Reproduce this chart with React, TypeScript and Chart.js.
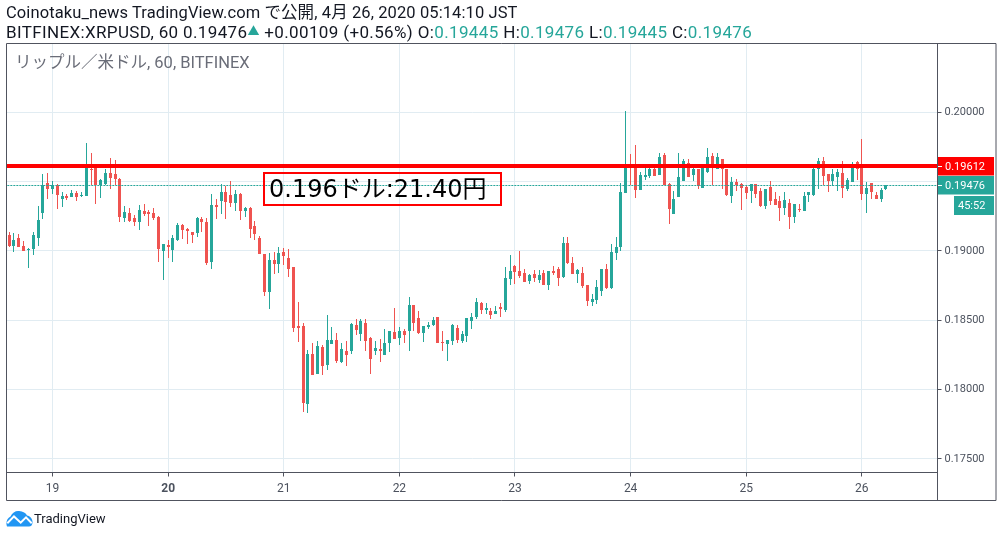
import React, { useEffect, useRef } from "react";
import { Chart, registerables } from "chart.js";

Chart.register(...registerables);

const opens = [19116,19038,19094,19036,19012,19017,19096,19270,19493,19449,19478,19372,19398,19386,19420,19398,19398,19594,19616,19478,19485,19565,19558,19522,19239,19275,19239,19205,19290,19282,19275,19246,19002,19041,19007,19079,19188,19159,19137,19130,19232,19210,18920,19333,19362,19427,19406,19348,19413,19290,19311,19181,19094,18978,18702,18934,18905,18992,18949,18884,18456,18456,17898,18253,18115,18304,18173,18325,18354,18195,18275,18275,18463,18398,18478,18369,18275,18289,18246,18333,18412,18369,18420,18420,18608,18514,18405,18449,18463,18521,18340,18325,18347,18441,18347,18383,18492,18521,18623,18572,18565,18543,18594,18572,18797,18891,18855,18840,18782,18833,18789,18840,18753,18855,18869,18811,19058,18913,18833,18840,18753,18630,18644,18710,18869,18731,18985,19029,19420,19628,19601,19442,19536,19543,19587,19550,19688,19485,19268,19391,19507,19637,19550,19594,19456,19572,19681,19594,19666,19587,19398,19500,19485,19463,19434,19485,19435,19326,19464,19377,19362,19311,19348,19246,19304,19290,19406,19406,19587,19645,19551,19507,19536,19565,19449,19500,19638,19616,19413,19493,19406,19377,19445];
const highs = [19135,19128,19123,19072,19024,19137,19326,19558,19565,19507,19485,19427,19413,19442,19435,19427,19780,19703,19623,19522,19594,19667,19659,19529,19326,19311,19261,19333,19340,19297,19311,19253,19050,19079,19116,19203,19195,19166,19137,19246,19246,19239,19413,19377,19483,19471,19507,19442,19420,19319,19319,19217,19108,18978,18985,18992,19029,19021,19014,18884,18630,18478,18282,18333,18347,18318,18536,18449,18405,18333,18347,18478,18507,18507,18507,18376,18347,18362,18434,18420,18586,18449,18434,18666,18608,18565,18456,18485,18521,18521,18420,18354,18470,18463,18420,18514,18550,18659,18630,18623,18586,18601,18623,18884,18971,18898,18999,18869,18833,18862,18862,18862,18855,18891,18884,19101,19101,18956,18869,18884,18753,18688,18789,18869,18905,19050,19101,19492,20007,19700,19761,19572,19601,19601,19603,19703,19703,19492,19434,19703,19666,19666,19601,19594,19623,19739,19703,19703,19666,19587,19536,19521,19492,19478,19485,19485,19456,19449,19507,19427,19398,19427,19377,19340,19340,19427,19427,19601,19667,19674,19551,19594,19587,19645,19529,19638,19645,19804,19500,19493,19427,19456,19478];
const lows = [19031,18995,19031,19002,18879,18973,19038,19227,19372,19408,19299,19314,19365,19386,19357,19391,19398,19478,19336,19384,19478,19449,19478,19205,19205,19205,19176,19154,19249,19176,19220,18922,18789,18949,18922,19072,19087,19050,19058,19101,19137,18898,18869,19232,19268,19232,19319,19290,19225,19246,19094,19079,18978,18673,18579,18833,18840,18898,18811,18412,18340,17840,17832,18101,18115,18108,18144,18325,18188,18188,18166,18253,18391,18347,18275,18115,18246,18195,18246,18267,18362,18318,18333,18275,18420,18398,18340,18434,18456,18333,18275,18209,18318,18333,18333,18340,18434,18507,18543,18543,18507,18543,18521,18557,18753,18760,18804,18775,18760,18775,18768,18753,18717,18826,18746,18804,18905,18833,18768,18731,18601,18601,18615,18673,18724,18724,18934,19000,19420,19478,19384,19442,19514,19529,19543,19550,19475,19195,19268,19391,19507,19536,19507,19449,19456,19565,19475,19594,19449,19398,19347,19434,19297,19376,19347,19384,19319,19304,19333,19333,19217,19261,19159,19203,19282,19290,19355,19398,19449,19478,19427,19471,19435,19384,19435,19500,19514,19369,19275,19377,19377,19355,19442];
const closes = [19038,19079,19031,19002,19017,19116,19224,19478,19449,19478,19401,19398,19384,19420,19386,19406,19616,19587,19478,19514,19565,19529,19522,19246,19282,19217,19205,19297,19268,19268,19239,19017,19050,19029,19094,19188,19152,19145,19116,19239,19210,18913,19333,19319,19427,19355,19348,19413,19290,19311,19159,19123,18978,18702,18934,18905,18985,18963,18869,18444,18441,17905,18253,18101,18311,18166,18354,18354,18202,18289,18246,18470,18427,18492,18347,18217,18296,18275,18333,18420,18362,18420,18391,18608,18478,18405,18456,18463,18499,18333,18333,18354,18463,18354,18398,18514,18521,18630,18572,18586,18536,18565,18579,18804,18855,18847,18818,18775,18826,18804,18826,18753,18855,18840,18804,19058,18913,18833,18862,18746,18637,18652,18739,18869,18731,18992,19029,19427,19601,19604,19442,19550,19550,19587,19543,19674,19475,19304,19376,19536,19645,19536,19594,19471,19601,19674,19599,19674,19587,19405,19500,19478,19456,19420,19485,19413,19326,19449,19362,19333,19311,19369,19246,19340,19297,19398,19427,19587,19645,19543,19507,19551,19572,19456,19514,19616,19594,19413,19456,19427,19377,19442,19476];

const priceTicks = [17500, 18000, 18500, 19000, 19500, 20000];
const dayIndexes = [9, 33, 57, 81, 105, 129, 153, 177];
const dayLabels = ["19", "20", "21", "22", "23", "24", "25", "26"];
const boldDay = "20";
const resistancePrice = 19612;
const lastPrice = 19476;
const countdown = "45:52";

const TEAL = "#26a69a";
const RED = "#ef5350";
const GRID = "#e1ecf2";
const FRAME = "#50535e";
const TEXT = "#131722";
const SCALE_TEXT = "#4c525e";
const FONT = 'Roboto, "Noto Sans CJK JP", sans-serif';
const fmt = (v: number) => (v / 100000).toFixed(5);

const frame = {
  id: "frame",
  afterDatasetsUpdate(chart: any) {
    chart.data.datasets.forEach((ds: any, i: number) => {
      const meta = chart.getDatasetMeta(i);
      if (meta.type === "line") {
        const odd = ds.borderWidth % 2 === 1;
        meta.data.forEach((el: any) => {
          el.y = Math.round(el.y) + (odd ? 0.5 : 0);
        });
        return;
      }
      meta.data.forEach((el: any) => {
        el.x = Math.floor(el.x) + 0.5;
        const a = Math.round(el.y);
        let b = Math.round(el.base);
        if (Math.abs(a - b) < 1) b = a + 1;
        el.y = a;
        el.base = b;
      });
    });
  },
  afterDraw(chart: any) {
    const { ctx, scales } = chart;
    ctx.save();
    ctx.strokeStyle = FRAME;
    ctx.lineWidth = 1;
    ctx.beginPath();
    ctx.rect(6.5, 43.5, 989.5, 457);
    ctx.moveTo(937.5, 43.5);
    ctx.lineTo(937.5, 500.5);
    ctx.moveTo(6.5, 472.5);
    ctx.lineTo(937.5, 472.5);
    ctx.stroke();
    const badge = (price: number, color: string) => {
      const y = Math.round(scales.y.getPixelForValue(price));
      ctx.fillStyle = color;
      ctx.fillRect(938, y - 9, 56, 18.5);
      ctx.strokeStyle = "#ffffff";
      ctx.beginPath();
      ctx.moveTo(938, y + 0.5);
      ctx.lineTo(942, y + 0.5);
      ctx.stroke();
      ctx.fillStyle = "#ffffff";
      ctx.font = "11px " + FONT;
      ctx.textBaseline = "middle";
      ctx.textAlign = "left";
      ctx.fillText(fmt(price), 945, y + 1);
      return y;
    };
    badge(resistancePrice, "#ff0000");
    const y = badge(lastPrice, TEAL);
    ctx.fillStyle = TEAL;
    ctx.fillRect(954, y + 11, 40, 19);
    ctx.fillStyle = "#ffffff";
    ctx.font = "11px " + FONT;
    ctx.textAlign = "left";
    ctx.fillText(countdown, 958, y + 21);
    ctx.restore();
  },
};

const abs = (left: number, top: number, extra: React.CSSProperties = {}): React.CSSProperties => ({
  position: "absolute",
  left,
  top,
  whiteSpace: "nowrap",
  fontFamily: FONT,
  ...extra,
});

export default function App() {
  const ref = useRef<HTMLCanvasElement>(null);
  useEffect(() => {
    const idx = opens.map((_, i) => i);
    const colors = idx.map((i) => (closes[i] >= opens[i] ? TEAL : RED));
    const chart = new Chart(ref.current!, {
      type: "bar",
      data: {
        datasets: [
          {
            type: "line",
            data: [{ x: -1, y: resistancePrice }, { x: 193, y: resistancePrice }],
            borderColor: "#ff0000",
            borderWidth: 4,
            pointRadius: 0,
            order: 0,
          },
          {
            type: "line",
            data: [{ x: -1, y: lastPrice }, { x: 193, y: lastPrice }],
            borderColor: TEAL,
            borderWidth: 1,
            borderDash: [2, 1],
            pointRadius: 0,
            order: 1,
          },
          {
            data: idx.map((i) => ({ x: i, y: [Math.min(opens[i], closes[i]), Math.max(opens[i], closes[i])] })),
            backgroundColor: colors,
            barThickness: 3,
            borderWidth: 0,
            inflateAmount: 0,
            grouped: false,
            order: 2,
          },
          {
            data: idx.map((i) => ({ x: i, y: [lows[i], highs[i]] })),
            backgroundColor: colors,
            barThickness: 1,
            borderWidth: 0,
            inflateAmount: 0,
            grouped: false,
            order: 3,
          },
        ] as any,
      },
      plugins: [frame],
      options: {
        responsive: false,
        animation: false,
        devicePixelRatio: 1,
        layout: { padding: { left: 6.5, top: 43.5, right: 6, bottom: 37 } },
        plugins: { legend: { display: false }, title: { display: false }, tooltip: { enabled: false } },
        scales: {
          x: {
            type: "linear",
            offset: false,
            min: -0.55,
            max: 192.7,
            grid: { color: GRID, offset: false, tickColor: FRAME, tickLength: 4, lineWidth: 1 },
            border: { display: false },
            afterBuildTicks: (s: any) => {
              s.ticks = dayIndexes.map((value) => ({ value }));
            },
            afterFit: (s: any) => {
              s.height = 27.5;
            },
            ticks: {
              autoSkip: false,
              maxRotation: 0,
              padding: 5,
              color: SCALE_TEXT,
              font: (ctx: any) => ({
                family: FONT,
                size: 12,
                weight: dayLabels[dayIndexes.indexOf(ctx.tick?.value)] === boldDay ? "bold" : "normal",
              }),
              callback: (v: any) => dayLabels[dayIndexes.indexOf(v)],
            },
          },
          y: {
            position: "right",
            min: 17401,
            max: 20496,
            grid: { color: GRID, tickColor: FRAME, tickLength: 4, lineWidth: 1 },
            border: { display: false },
            afterBuildTicks: (s: any) => {
              s.ticks = priceTicks.map((value) => ({ value }));
            },
            afterFit: (s: any) => {
              s.width = 58.5;
            },
            ticks: {
              padding: 3,
              color: SCALE_TEXT,
              font: { family: FONT, size: 11 },
              callback: (v: any) => fmt(v),
            },
          },
        },
      } as any,
    });
    return () => chart.destroy();
  }, []);

  const val = { color: TEAL };
  return (
    <div style={{ position: "fixed", left: 0, top: 0, width: 1002, height: 537, background: "#fff", overflow: "hidden", color: TEXT }}>
      <canvas ref={ref} width={1002} height={537} style={{ position: "absolute", left: 0, top: 0, display: "block" }} />
      <div style={abs(6, 3, { fontSize: 16.5, lineHeight: "20px", letterSpacing: 0.1 })}>Coinotaku_news TradingView.com で公開, 4月 26, 2020 05:14:10 JST</div>
      <div style={abs(6, 22, { fontSize: 17, lineHeight: "20px", letterSpacing: 0.36 })}>
        BITFINEX:XRPUSD, 60 0.19476<span style={{ color: TEAL, fontSize: 12, verticalAlign: 2 }}>▲</span> +0.00109 (+0.56%) O:<span style={val}>0.19445</span> H:<span style={val}>0.19476</span> L:<span style={val}>0.19445</span> C:<span style={val}>0.19476</span>
      </div>
      <div style={abs(15, 53, { fontSize: 16.5, lineHeight: "20px", color: "#6a6d78" })}>リップル／米ドル, 60, BITFINEX</div>
      <div
        style={abs(263, 172, {
          width: 231,
          height: 30,
          border: "2px solid #ff0000",
          fontFamily: '"DejaVu Sans", "Noto Sans CJK JP", sans-serif',
          fontSize: 24,
          lineHeight: "30px",
          color: "#000",
          paddingLeft: 4,
          boxSizing: "content-box",
        })}
      >
        0.196ドル:21.40円
      </div>
      <svg style={{ position: "absolute", left: 6, top: 510 }} width={27} height={17} viewBox="0 0 27 17">
        <path d="M1 16.5 C-0.5 13 1 8 4.5 6.5 C6 2.5 10 0.5 13 1 C17 1.2 20 3 21 5.5 C24.5 6 27 9.5 26.5 13 C26 15.5 25 16.5 23 16.5 Z" fill="#2196f3" />
        <path d="M1.3 13.3 L8 6.4 L14.7 12.7 L20 7.4 L25.7 13.3" fill="none" stroke="#fff" strokeWidth="2" />
      </svg>
      <div style={abs(34, 511, { fontSize: 13, lineHeight: "16px" })}>TradingView</div>
    </div>
  );
}
